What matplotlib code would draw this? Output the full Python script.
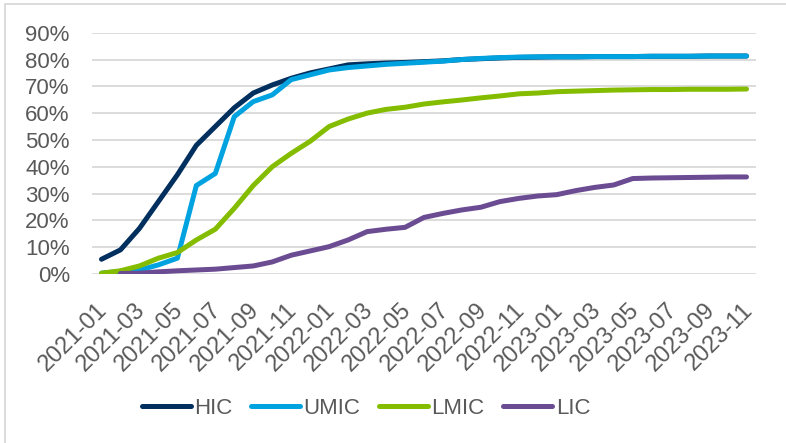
import matplotlib
matplotlib.use("Agg")
import matplotlib.pyplot as plt
import matplotlib.transforms as mtransforms
from matplotlib.patches import Rectangle
from matplotlib.ticker import FuncFormatter, MultipleLocator

plt.rcParams['font.family'] = ['Liberation Sans', 'DejaVu Sans']

# Monthly periods, 2021-01 .. 2023-11
months = [f"{2021 + k // 12}-{k % 12 + 1:02d}" for k in range(35)]

# Cumulative coverage share (%) by income group
hic = [5.5, 9.0, 17.0, 27.0, 37.0, 48.0, 55.0, 62.0, 67.5, 70.5, 73.0, 75.0,
       76.5, 78.0, 78.4, 78.7, 78.9, 79.2, 79.5, 80.0, 80.3, 80.6, 80.8, 80.9,
       81.0, 81.0, 81.1, 81.1, 81.1, 81.2, 81.2, 81.2, 81.3, 81.3, 81.3]
umic = [0.3, 1.0, 1.5, 3.4, 5.9, 33.0, 37.5, 58.7, 64.3, 66.8, 72.5, 74.3,
        76.1, 77.0, 77.6, 78.2, 78.6, 79.0, 79.4, 80.0, 80.4, 80.7, 80.9, 81.0,
        81.0, 81.0, 81.1, 81.1, 81.1, 81.2, 81.2, 81.2, 81.3, 81.3, 81.3]
lmic = [0.3, 1.2, 3.0, 5.9, 8.0, 12.7, 16.7, 24.5, 33.0, 40.0, 45.0, 49.5,
        55.0, 57.8, 60.0, 61.4, 62.2, 63.4, 64.2, 64.9, 65.7, 66.4, 67.2, 67.5,
        68.0, 68.2, 68.4, 68.6, 68.7, 68.8, 68.8, 68.9, 68.9, 68.9, 69.0]
lic = [None, 0.2, 0.3, 0.8, 1.2, 1.5, 1.8, 2.4, 3.0, 4.5, 7.0, 8.6,
       10.2, 12.7, 15.8, 16.7, 17.4, 21.1, 22.6, 23.9, 24.9, 27.0, 28.2, 29.1,
       29.6, 31.1, 32.3, 33.2, 35.6, 35.8, 35.9, 36.0, 36.1, 36.2, 36.2]

series = [("HIC", hic, "#012f5e"), ("UMIC", umic, "#00a3e0"),
          ("LMIC", lmic, "#84bd00"), ("LIC", lic, "#6b4c93")]

fig = plt.figure(figsize=(7.86, 4.43), dpi=100)
ax = fig.add_axes([92 / 786, 1 - 274 / 443, (756 - 92) / 786, (274 - 32.7) / 443])

x = list(range(len(months)))
for name, vals, color in series:
    pts = [(i, v) for i, v in zip(x, vals) if v is not None]
    ax.plot([p[0] for p in pts], [p[1] for p in pts], color=color, lw=3.6,
            solid_capstyle='round', solid_joinstyle='round', label=name)

ax.set_xlim(-0.5, len(months) - 0.5)
ax.set_ylim(0, 90)
ax.yaxis.set_major_locator(MultipleLocator(10))
ax.yaxis.set_major_formatter(FuncFormatter(lambda v, p: f"{v:.0f}%"))
ax.grid(axis='y', color='#d9d9d9', lw=1.3)
ax.set_axisbelow(True)
for s in ax.spines.values():
    s.set_visible(False)

ax.set_xticks(x[::2])
ax.set_xticklabels(months[::2], rotation=45, ha='right', va='top',
                   rotation_mode='anchor')
ax.tick_params(axis='x', length=0, pad=18, labelsize=17, labelcolor='#595959')
ax.tick_params(axis='y', length=0, pad=16, labelsize=16, labelcolor='#595959')
shift = mtransforms.ScaledTranslation(-5 / 100, 0, fig.dpi_scale_trans)
for lbl in ax.get_xticklabels():
    lbl.set_transform(lbl.get_transform() + shift)

leg = fig.legend(loc='center', bbox_to_anchor=(366 / 786, 1 - 408 / 443),
                 ncol=4, frameon=False, fontsize=16, handlelength=2.2,
                 handletextpad=0.15, columnspacing=0.85, labelcolor='#595959')

fig.patches.append(Rectangle((5 / 786, -0.01), 1.0, 1 - 4 / 443 + 0.01,
                             transform=fig.transFigure, fill=False,
                             edgecolor='#d9d9d9', lw=1.3))

fig.savefig("out.png", dpi=100)
